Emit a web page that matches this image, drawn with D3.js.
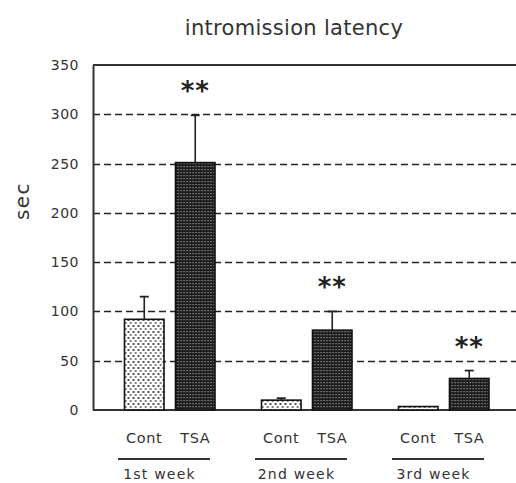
<!DOCTYPE html>
<html>
<head>
<meta charset="utf-8">
<script src="https://cdn.jsdelivr.net/npm/d3@7"></script>
<style>
  html, body { margin: 0; padding: 0; background: #fff; }
  svg { display: block; font-family: "DejaVu Sans", Verdana, sans-serif; }
</style>
</head>
<body>
<svg id="chart" width="516" height="483"></svg>
<script>
// ---- data ----
const weeks = ["1st week", "2nd week", "3rd week"];
const groups = ["Cont", "TSA"];
const contValues = [92, 10, 3.5];
const contErrors = [23, 2, 0];
const tsaValues = [251, 81, 32];
const tsaErrors = [48, 19, 8];
const significance = ["**", "**", "**"];
const yTicks = [0, 50, 100, 150, 200, 250, 300, 350];
const gridTicks = [50, 100, 150, 200, 250, 300];
const title = "intromission latency";
const yLabel = "sec";

const rows = weeks.map((w, i) => ({
  week: w,
  bars: [
    { group: "Cont", value: contValues[i], err: contErrors[i] },
    { group: "TSA", value: tsaValues[i], err: tsaErrors[i] }
  ],
  sig: significance[i]
}));

const svg = d3.select("#chart");
const W = 516, H = 483;
const mLeft = 93, mTop = 65, mBottom = 410;

// patterns
const defs = svg.append("defs");
const pc = defs.append("pattern").attr("id", "patCont")
  .attr("patternUnits", "userSpaceOnUse").attr("width", 5).attr("height", 6);
pc.append("rect").attr("width", 5).attr("height", 6).attr("fill", "#fff");
pc.append("rect").attr("x", 1).attr("y", 1).attr("width", 2).attr("height", 2).attr("fill", "#555");
pc.append("rect").attr("x", 3.5).attr("y", 4).attr("width", 2).attr("height", 2).attr("fill", "#555");

const pt = defs.append("pattern").attr("id", "patTSA")
  .attr("patternUnits", "userSpaceOnUse").attr("width", 3).attr("height", 3);
pt.append("rect").attr("width", 3).attr("height", 3).attr("fill", "#1c1c1c");
pt.append("rect").attr("x", 1).attr("y", 1).attr("width", 1.2).attr("height", 1.2).attr("fill", "#a0a0a0");

// scales
const y = d3.scaleLinear().domain([0, 350]).range([mBottom, mTop]);
const x0 = d3.scaleBand().domain(weeks).range([101.5, 512.5]).padding(0);
const x1 = d3.scaleBand().domain(groups).range([23, 113.5]).paddingInner(0.225).paddingOuter(0);

// grid lines
svg.append("g").selectAll("line").data(gridTicks).join("line")
  .attr("x1", mLeft).attr("x2", W)
  .attr("y1", d => Math.round(y(d)) + 0.5).attr("y2", d => Math.round(y(d)) + 0.5)
  .attr("stroke", "#222").attr("stroke-width", 1.6)
  .attr("stroke-dasharray", "7,4");

// frame
svg.append("line").attr("x1", mLeft).attr("x2", W).attr("y1", y(350)).attr("y2", y(350))
  .attr("stroke", "#333").attr("stroke-width", 2);
svg.append("line").attr("x1", mLeft).attr("x2", W).attr("y1", y(0)).attr("y2", y(0))
  .attr("stroke", "#333").attr("stroke-width", 2);

// y axis
const yAxis = d3.axisLeft(y).tickValues(yTicks).tickSize(0).tickPadding(14).tickFormat(d3.format("d"));
const yg = svg.append("g").attr("transform", `translate(${mLeft},0)`).call(yAxis);
yg.select(".domain").attr("stroke", "#333").attr("stroke-width", 2);
yg.selectAll("text").attr("font-size", 14).attr("fill", "#333")
  .attr("font-family", "DejaVu Sans, sans-serif").attr("letter-spacing", 0.5);

// bars
const gW = svg.append("g").selectAll("g").data(rows).join("g")
  .attr("transform", d => `translate(${x0(d.week)},0)`);

gW.selectAll("rect").data(d => d.bars).join("rect")
  .attr("x", d => x1(d.group))
  .attr("width", x1.bandwidth())
  .attr("y", d => y(d.value))
  .attr("height", d => y(0) - y(d.value))
  .attr("fill", d => d.group === "Cont" ? "url(#patCont)" : "url(#patTSA)")
  .attr("stroke", "#111").attr("stroke-width", 1.6);

// error bars
const eb = gW.selectAll("g.err").data(d => d.bars.filter(b => b.err > 0)).join("g").attr("class", "err");
eb.append("line")
  .attr("x1", d => x1(d.group) + x1.bandwidth() / 2)
  .attr("x2", d => x1(d.group) + x1.bandwidth() / 2)
  .attr("y1", d => y(d.value)).attr("y2", d => y(d.value + d.err))
  .attr("stroke", "#222").attr("stroke-width", 1.6);
eb.append("line")
  .attr("x1", d => x1(d.group) + x1.bandwidth() / 2 - 4.5)
  .attr("x2", d => x1(d.group) + x1.bandwidth() / 2 + 4.5)
  .attr("y1", d => y(d.value + d.err)).attr("y2", d => y(d.value + d.err))
  .attr("stroke", "#222").attr("stroke-width", 1.8);

// significance stars
gW.append("text")
  .attr("x", d => x1("TSA") + x1.bandwidth() / 2)
  .attr("y", d => y(d.bars[1].value + d.bars[1].err) - 32 + 17)
  .attr("text-anchor", "middle")
  .attr("font-size", 26).attr("font-weight", "bold").attr("fill", "#222")
  .attr("letter-spacing", 1)
  .text(d => d.sig);

// group labels
gW.selectAll("text.grp").data(d => d.bars).join("text").attr("class", "grp")
  .attr("x", d => x1(d.group) + x1.bandwidth() / 2)
  .attr("y", 443)
  .attr("text-anchor", "middle")
  .attr("font-size", 14.5).attr("fill", "#333")
  .attr("letter-spacing", 0.6)
  .text(d => d.group);

// underline
gW.append("line")
  .attr("x1", 16.5).attr("x2", 108.5)
  .attr("y1", 459).attr("y2", 459)
  .attr("stroke", "#333").attr("stroke-width", 1.8);

// week labels
gW.append("text")
  .attr("x", 58)
  .attr("y", 479)
  .attr("text-anchor", "middle")
  .attr("font-size", 14).attr("fill", "#333")
  .attr("letter-spacing", 1.2)
  .text(d => d.week);

// y label
svg.append("text")
  .attr("transform", "translate(29,201) rotate(-90)")
  .attr("text-anchor", "middle")
  .attr("font-size", 20).attr("fill", "#333")
  .attr("letter-spacing", 1.5)
  .text(yLabel);

// title
svg.append("text")
  .attr("x", 294).attr("y", 35)
  .attr("text-anchor", "middle")
  .attr("font-size", 21).attr("fill", "#333")
  .attr("letter-spacing", 0.3)
  .text(title);
</script>
</body>
</html>
